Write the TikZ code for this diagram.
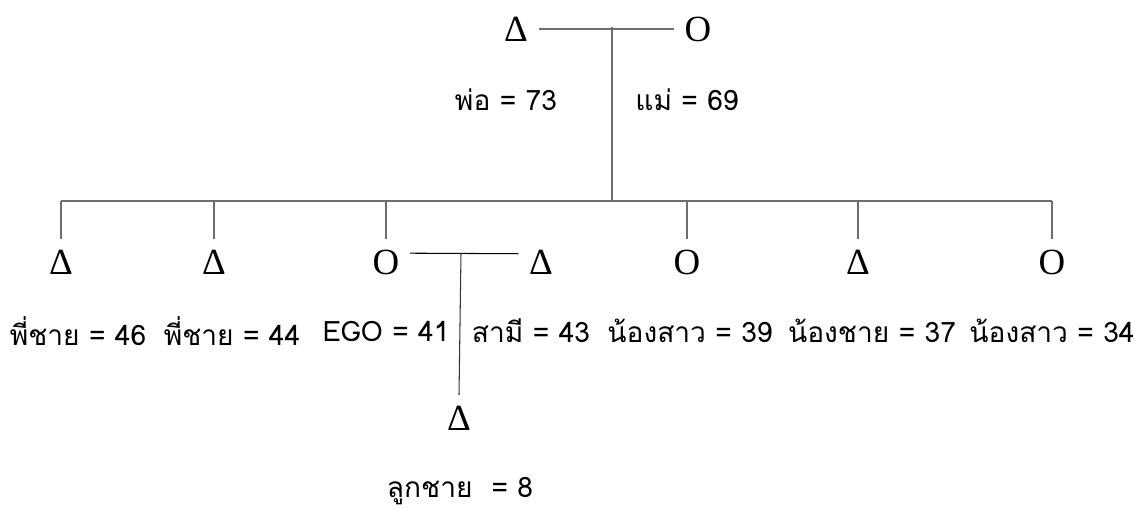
\documentclass[tikz,border=0pt]{standalone}
\usepackage{fontspec}
\setmainfont{Liberation Serif}
\newfontfamily\thaifont[Script=Thai]{Loma}
\usetikzlibrary{positioning}
\definecolor{lineg}{RGB}{110,110,110}

\begin{document}
\begin{tikzpicture}[x=0.02cm, y=-0.02cm,
  sym/.style={font=\fontsize{21}{21}\selectfont, text height=14pt, text depth=0pt, inner xsep=6pt, inner ysep=6pt},
  lbl/.style={font=\thaifont\fontsize{16}{18}\selectfont, inner sep=1pt},
  kin/.style={draw=lineg, line width=0.6pt}]
\useasboundingbox (0,0) rectangle (1135,508);
% parents
\node[sym] (fa) at (516,29) {Δ};
\node[sym] (mo) at (698,29) {O};
\node[lbl] (fal) at (506,100) {พ่อ = 73};
\node[lbl] (mol) at (687,100) {แม่ = 69};
\coordinate (mar) at (612,27);
\coordinate (sib) at (612,201);
% children
\node[sym] (c1) at (61,262) {Δ};
\node[sym] (c2) at (214,262) {Δ};
\node[sym] (ego) at (386,262) {O};
\node[sym] (sp) at (541,262) {Δ};
\node[sym] (c4) at (687,262) {O};
\node[sym] (c5) at (858,262) {Δ};
\node[sym] (c6) at (1052,262) {O};
\node[lbl] (l1) at (78,331) {พี่ชาย = 46};
\node[lbl] (l2) at (232,331) {พี่ชาย = 44};
\node[lbl] (l3) at (386,331) {EGO = 41};
\node[lbl] (l4) at (531,331) {สามี = 43};
\node[lbl] (l5) at (690,331) {น้องสาว = 39};
\node[lbl] (l6) at (872,331) {น้องชาย = 37};
\node[lbl] (l7) at (1052,331) {น้องสาว = 34};
% grandchild
\coordinate (egom) at (461,253);
\node[sym] (son) at (459,418) {Δ};
\node[lbl] (sonl) at (460,491) {ลูกชาย~ = 8};
% lines
\draw[kin] (fa.east) -- (mo.west);
\draw[kin] (mar) -- (sib);
\draw[kin] (c1 |- sib) -- (c6 |- sib);
\foreach \c in {c1,c2,ego,c4,c5,c6}
  \draw[kin] (\c |- sib) -- (\c.north);
\draw[kin, draw=black] (ego.20) -- (sp.160);
\draw[kin, draw=black!80] (egom) -- (son.north);
\end{tikzpicture}
\end{document}
